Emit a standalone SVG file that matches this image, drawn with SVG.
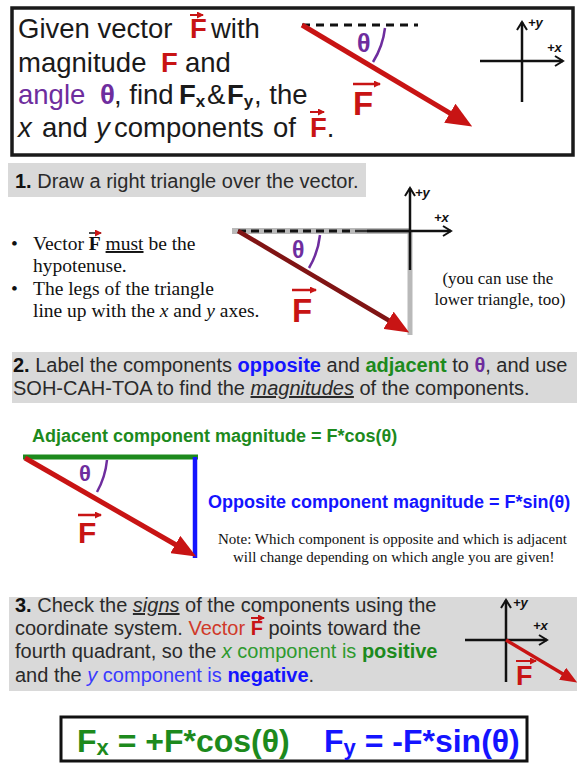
<svg xmlns="http://www.w3.org/2000/svg" width="577" height="763" viewBox="0 0 577 763">
<style>
.sans{font-family:"Liberation Sans",Arial,sans-serif}
.serif{font-family:"Liberation Serif","Times New Roman",serif}
.b{font-weight:bold}
.i{font-style:italic}
.red{fill:#c81414}
.pur{fill:#6e2d9e}
.grn{fill:#1d8a1d}
.blu{fill:#1414ff}
.band{fill:#d9d9d9}
.bt{font-family:"Liberation Sans",Arial,sans-serif;font-size:20px;fill:#2a2a2a}
.axis{stroke:#111;stroke-width:2.5;fill:none}
.axl{font-family:"Liberation Sans",Arial,sans-serif;font-size:13px;font-weight:bold;font-style:italic;fill:#111}
.arc{fill:none;stroke:#6e2d9e;stroke-width:2.5}
.ovr{stroke:#c81414;stroke-width:2}
</style>
<defs>
<marker id="headL" markerUnits="userSpaceOnUse" markerWidth="26" markerHeight="22" viewBox="0 0 26 22" refX="1" refY="11" orient="auto"><path d="M0,0 L26,11 L0,22 z" fill="#c81414"/></marker>
<marker id="headM" markerUnits="userSpaceOnUse" markerWidth="24" markerHeight="20" viewBox="0 0 24 20" refX="1" refY="10" orient="auto"><path d="M0,0 L24,10 L0,20 z" fill="#c81414"/></marker>
<marker id="headS" markerUnits="userSpaceOnUse" markerWidth="17" markerHeight="14" viewBox="0 0 17 14" refX="1" refY="7" orient="auto"><path d="M0,0 L17,7 L0,14 z" fill="#c81414"/></marker>
<marker id="chev" markerUnits="userSpaceOnUse" markerWidth="12" markerHeight="12" viewBox="0 0 12 12" refX="10" refY="6" orient="auto"><path d="M2,1 L10,6 L2,11" fill="none" stroke="#111" stroke-width="2"/></marker>
<marker id="tiny" markerUnits="userSpaceOnUse" markerWidth="7" markerHeight="7" viewBox="0 0 7 7" refX="6" refY="3.5" orient="auto"><path d="M0,0 L7,3.5 L0,7 z" fill="#c81414"/></marker>
</defs>
<rect width="577" height="763" fill="#ffffff"/>

<!-- Top box -->
<g id="intro">
<rect x="12" y="8" width="561" height="147" fill="#fff" stroke="#1a1a1a" stroke-width="3.5"/>
<text class="sans" font-size="27.5" fill="#1a1a1a">
<tspan x="18" y="38">Given vector</tspan><tspan x="190" class="b red">F</tspan><tspan x="211">with</tspan>
<tspan x="18" y="72">magnitude</tspan><tspan x="161" class="b red">F</tspan><tspan x="185">and</tspan>
<tspan x="18" y="104" class="pur">angle</tspan><tspan x="100" class="b pur">θ</tspan><tspan x="114">, find</tspan><tspan x="179" class="b">F</tspan><tspan class="b" font-size="17" dy="3">x</tspan><tspan x="207" dy="-3">&amp;</tspan><tspan x="227" class="b">F</tspan><tspan class="b" font-size="17" dy="3">y</tspan><tspan x="254" dy="-3">, the</tspan>
<tspan x="18" y="137" class="i">x</tspan><tspan x="42">and</tspan><tspan x="96" class="i">y</tspan><tspan x="114">components</tspan><tspan x="273">of</tspan><tspan x="310" class="b red">F</tspan><tspan>.</tspan>
</text>
<line x1="190" y1="15" x2="203" y2="15" class="ovr" marker-end="url(#tiny)"/>
<line x1="310" y1="112" x2="324" y2="112" class="ovr" marker-end="url(#tiny)"/>
</g>

<g id="intro-vector">
<line x1="302" y1="25" x2="418" y2="25" stroke="#111" stroke-width="3" stroke-dasharray="8 6"/>
<line x1="302" y1="25" x2="450.7" y2="113.7" stroke="#c81414" stroke-width="5" marker-end="url(#headL)"/>
<path d="M385,28 A82,82 0 0 1 373,62" class="arc"/>
<text x="357" y="52" class="sans b pur" font-size="25">θ</text>
<text x="353" y="115" class="sans b red" font-size="33">F</text>
<line x1="353" y1="84" x2="380" y2="84" stroke="#c81414" stroke-width="2.5" marker-end="url(#tiny)"/>
</g>

<g id="intro-axes">
<line x1="522" y1="102" x2="522" y2="22" class="axis" marker-end="url(#chev)"/>
<line x1="480" y1="61" x2="563" y2="61" class="axis" marker-end="url(#chev)"/>
<text x="528" y="27" class="axl">+y</text>
<text x="547" y="52" class="axl">+x</text>
</g>

<!-- Step 1 -->
<g id="step1-banner">
<rect x="8" y="163" width="358" height="34" class="band"/>
<text x="15" y="188" class="bt"><tspan class="b" fill="#111">1.</tspan> Draw a right triangle over the vector.</text>
</g>
<g id="step1-bullets">
<text class="serif" font-size="19.5" fill="#111">
<tspan x="11" y="250">•</tspan><tspan x="33">Vector </tspan><tspan class="b">F</tspan><tspan> </tspan><tspan text-decoration="underline">must</tspan><tspan> be the</tspan>
<tspan x="33" y="272">hypotenuse.</tspan>
<tspan x="11" y="295">•</tspan><tspan x="33">The legs of the triangle</tspan>
<tspan x="33" y="317">line up with the </tspan><tspan class="i">x</tspan><tspan> and </tspan><tspan class="i">y</tspan><tspan> axes.</tspan>
</text>
<line x1="89" y1="233" x2="101" y2="233" stroke="#111" stroke-width="1.5" marker-end="url(#tiny)"/>
</g>
<g id="step1-triangle">
<line x1="232" y1="231" x2="410" y2="231" stroke="#a8a8a8" stroke-width="6" opacity="0.8"/>
<line x1="410" y1="231" x2="410" y2="335" stroke="#a8a8a8" stroke-width="5" opacity="0.8"/>
<line x1="238" y1="231" x2="355" y2="231" stroke="#111" stroke-width="3" stroke-dasharray="8 5"/>
<line x1="355" y1="231" x2="410" y2="231" stroke="#333" stroke-width="2.5"/>
<line x1="238" y1="231" x2="389.4" y2="320.8" stroke="#801414" stroke-width="4.5" marker-end="url(#headM)"/>
<path d="M320,235 A82,82 0 0 1 309,268" class="arc"/>
<text x="292" y="258" class="sans b pur" font-size="23">θ</text>
<text x="292" y="322" class="sans b red" font-size="33">F</text>
<line x1="292" y1="290" x2="316" y2="290" stroke="#c81414" stroke-width="2.5" marker-end="url(#tiny)"/>
</g>
<g id="step1-axes">
<line x1="410" y1="270" x2="410" y2="188" class="axis" marker-end="url(#chev)"/>
<line x1="367" y1="231" x2="451" y2="231" class="axis" marker-end="url(#chev)"/>
<text x="415" y="197" class="axl">+y</text>
<text x="434" y="222" class="axl">+x</text>
</g>
<g id="step1-note">
<text class="serif" font-size="17" fill="#111" text-anchor="middle">
<tspan x="500" y="284">(you can use the</tspan>
<tspan x="500" y="305">lower triangle, too)</tspan>
</text>
</g>

<!-- Step 2 -->
<g id="step2-banner">
<rect x="12" y="352" width="565" height="51" class="band"/>
<text class="bt">
<tspan x="13" y="372"><tspan class="b" fill="#111">2.</tspan> Label the components <tspan class="b blu">opposite</tspan> and <tspan class="b grn">adjacent</tspan> to <tspan class="b pur">θ</tspan>, and use</tspan>
<tspan x="13" y="395">SOH-CAH-TOA to find the <tspan class="i" text-decoration="underline">magnitudes</tspan> of the components.</tspan>
</text>
</g>
<g id="step2-triangle">
<line x1="23" y1="457" x2="198" y2="457" stroke="#1d8a1d" stroke-width="5"/>
<line x1="195" y1="457" x2="195" y2="558" stroke="#1414ff" stroke-width="4.5"/>
<line x1="25" y1="458" x2="176.2" y2="545" stroke="#c81414" stroke-width="5" marker-end="url(#headM)"/>
<path d="M107,460 A82,82 0 0 1 97,492" class="arc"/>
<text x="79" y="481" class="sans b pur" font-size="22">θ</text>
<text x="78" y="543" class="sans b red" font-size="30">F</text>
<line x1="78" y1="515" x2="101" y2="515" stroke="#c81414" stroke-width="2.5" marker-end="url(#tiny)"/>
</g>
<g id="step2-labels">
<text x="32" y="442" class="sans b grn" font-size="18">Adjacent component magnitude = F*cos(θ)</text>
<text x="208" y="508" class="sans b blu" font-size="18">Opposite component magnitude = F*sin(θ)</text>
<text class="serif" font-size="15" fill="#111">
<tspan x="218" y="544">Note: Which component is opposite and which is adjacent</tspan>
<tspan x="233" y="562">will change depending on which angle you are given!</tspan>
</text>
</g>

<!-- Step 3 -->
<g id="step3-banner">
<rect x="9" y="597" width="568" height="94" class="band"/>
<text class="bt">
<tspan x="15" y="612"><tspan class="b" fill="#111">3.</tspan> Check the <tspan class="i" text-decoration="underline">signs</tspan> of the components using the</tspan>
<tspan x="15" y="635">coordinate system. <tspan fill="#d03a2a">Vector </tspan><tspan class="b red">F</tspan> points toward the</tspan>
<tspan x="15" y="658">fourth quadrant, so the <tspan class="i" fill="#2e9a2e">x</tspan><tspan fill="#2e9a2e"> component is </tspan><tspan class="b grn">positive</tspan></tspan>
<tspan x="15" y="682">and the <tspan class="i" fill="#3a3aff">y</tspan><tspan fill="#3a3aff"> component is </tspan><tspan class="b blu">negative</tspan>.</tspan>
</text>
<line x1="251" y1="618" x2="264" y2="618" class="ovr" marker-end="url(#tiny)"/>
</g>
<g id="step3-axes">
<line x1="506" y1="682" x2="506" y2="600" class="axis" marker-end="url(#chev)"/>
<line x1="465" y1="640" x2="547" y2="640" class="axis" marker-end="url(#chev)"/>
<text x="513" y="607" class="axl">+y</text>
<text x="533" y="630" class="axl">+x</text>
<line x1="506" y1="640" x2="563.4" y2="674.3" stroke="#c81414" stroke-width="3.5" marker-end="url(#headS)"/>
<text x="516" y="685" class="sans b red" font-size="27">F</text>
<line x1="516" y1="661" x2="536" y2="661" stroke="#c81414" stroke-width="2" marker-end="url(#tiny)"/>
</g>

<!-- Result -->
<g id="result">
<rect x="61" y="717" width="466" height="44" fill="#fff" stroke="#111" stroke-width="3"/>
<text x="77" y="752" class="sans b grn" font-size="32">F<tspan font-size="22" dy="3">x</tspan><tspan dy="-3"> = +F*cos(θ)</tspan></text>
<text x="324" y="752" class="sans b blu" font-size="32">F<tspan font-size="22" dy="3">y</tspan><tspan dy="-3"> = -F*sin(θ)</tspan></text>
</g>
</svg>
